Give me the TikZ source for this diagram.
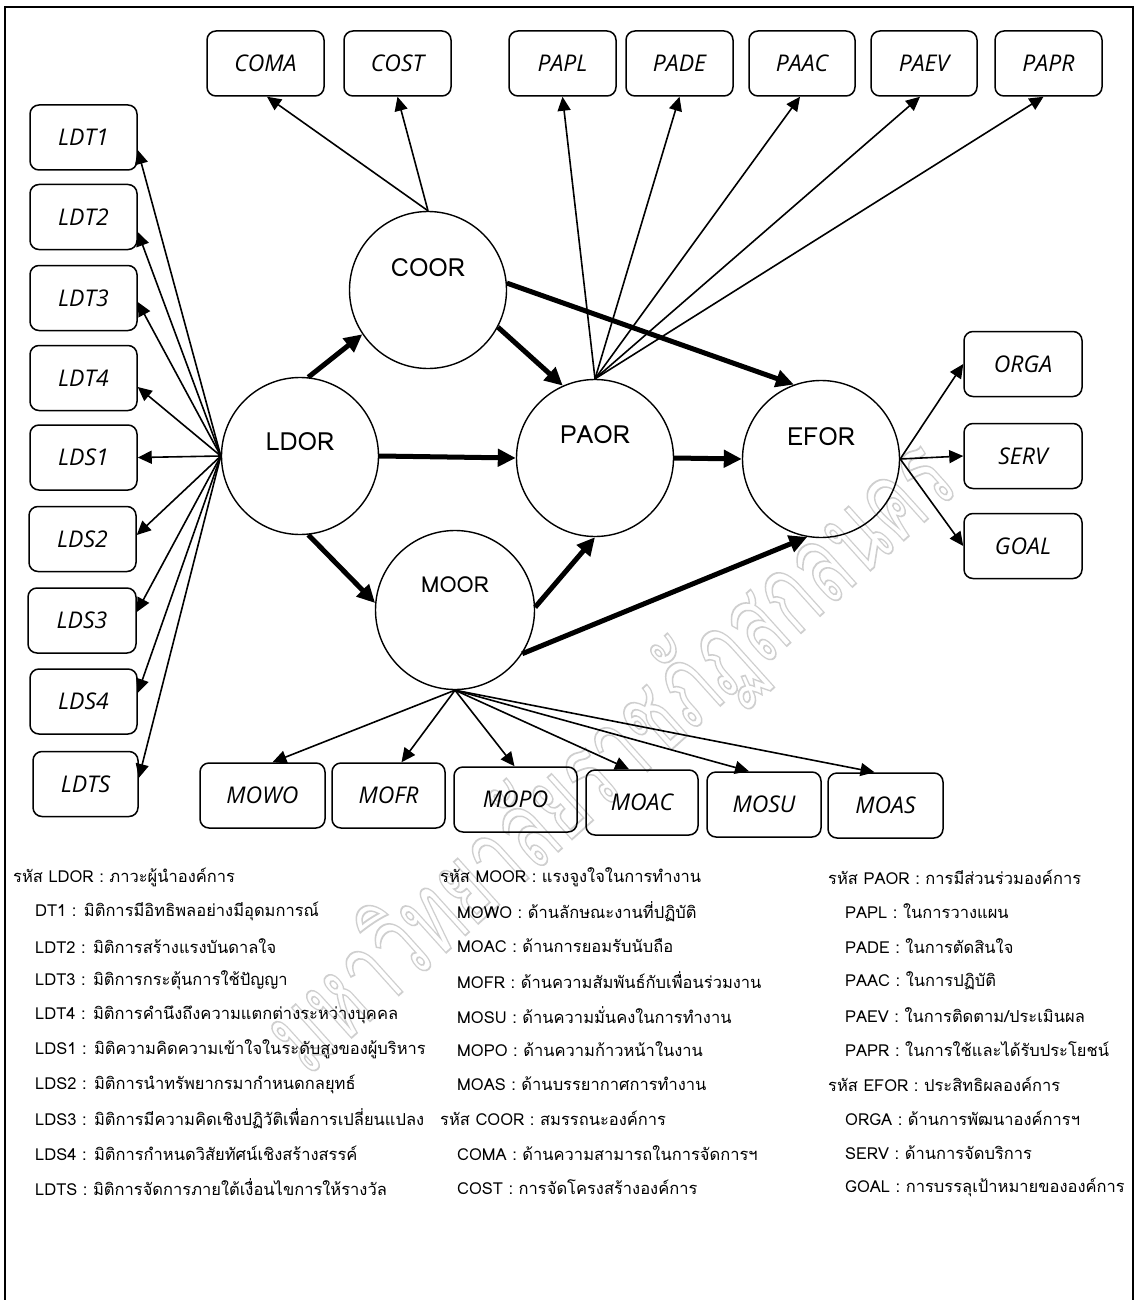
\documentclass[tikz,border=0pt]{standalone}
\usepackage{fontspec}
\usetikzlibrary{arrows.meta,calc}
\newfontfamily\thaifont[Script=Thai]{Loma}
\newfontfamily\boxfont{Open Sans}
\newcommand\clab[2]{\smash{\raisebox{#1pt}{#2}}}
\begin{document}
\begin{tikzpicture}[x=1pt,y=-1pt,
 bx/.style={draw, line width=1.5pt, rounded corners=9pt, minimum height=65pt, inner sep=0pt, font=\boxfont\itshape\fontsize{23}{23}\selectfont},
 circ/.style={circle, draw, line width=1.4pt, minimum size=157pt, inner sep=0pt, font=\thaifont\fontsize{25}{25}\selectfont},
 thinarr/.style={line width=1.6pt, -{Triangle[length=14pt,width=13pt]}},
 thickarr/.style={line width=5pt, -{Triangle[length=18pt,width=17pt]}},
 leg/.style={anchor=west, inner sep=0pt, font=\thaifont\fontsize{16.5}{16.5}\selectfont},
]
\useasboundingbox (0,0) rectangle (1136,1300);
\fill[white] (0,0) rectangle (1136,1300);
% watermark
\node[rotate=42, text=gray!38, inner sep=0pt, font=\thaifont\fontsize{112}{112}\selectfont] (wm) at (612,758) {\scalebox{0.64}[1]{\special{pdf:literal direct 1 Tr 1.8 w}มหาวิทยาลัยราชภัฏสกลนคร\special{pdf:literal direct 0 Tr}}};
% frame
\draw[line width=1.8pt] (5,7) rectangle (1133,1330);

% top boxes
\node[bx, minimum width=117pt] (COMA) at (265.5,63.5) {COMA};
\node[bx, minimum width=107pt] (COST) at (397.5,63.5) {COST};
\node[bx, minimum width=107pt] (PAPL) at (562.5,63.5) {PAPL};
\node[bx, minimum width=107pt] (PADE) at (679.5,63.5) {PADE};
\node[bx, minimum width=106pt] (PAAC) at (802,63.5) {PAAC};
\node[bx, minimum width=106pt] (PAEV) at (924,63.5) {PAEV};
\node[bx, minimum width=107pt] (PAPR) at (1048.5,63.5) {PAPR};
% left boxes
\node[bx, minimum width=107pt] (LDT1) at (83.5,137.5) {LDT1};
\node[bx, minimum width=107pt] (LDT2) at (83.5,217) {LDT2};
\node[bx, minimum width=107pt] (LDT3) at (83.5,298) {LDT3};
\node[bx, minimum width=107pt] (LDT4) at (83.5,378) {LDT4};
\node[bx, minimum width=107pt] (LDS1) at (83.5,457.5) {LDS1};
\node[bx, minimum width=107pt] (LDS2) at (82.5,539) {LDS2};
\node[bx, minimum width=108pt] (LDS3) at (82,620.5) {LDS3};
\node[bx, minimum width=107pt] (LDS4) at (83.5,701.5) {LDS4};
\node[bx, minimum width=105pt] (LDTS) at (85.5,784) {LDTS};
% right boxes
\node[bx, minimum width=118pt] (ORGA) at (1023,364) {ORGA};
\node[bx, minimum width=118pt] (SERV) at (1023,456) {SERV};
\node[bx, minimum width=118pt] (GOAL) at (1023,546) {GOAL};
% bottom boxes
\node[bx, minimum width=125pt] (MOWO) at (262.5,795.5) {MOWO};
\node[bx, minimum width=113pt] (MOFR) at (388.5,795.5) {MOFR};
\node[bx, minimum width=123pt] (MOPO) at (515.5,799.5) {MOPO};
\node[bx, minimum width=112pt] (MOAC) at (642,802.5) {MOAC};
\node[bx, minimum width=114pt] (MOSU) at (764,804.5) {MOSU};
\node[bx, minimum width=115pt] (MOAS) at (885.5,805.5) {MOAS};

% circles
\node[circ] (LDOR) at (300,456) {\clab{5.5}{LDOR}};
\node[circ] (COOR) at (428,290) {\clab{13.5}{COOR}};
\node[circ] (PAOR) at (595,458) {\clab{14.5}{PAOR}};
\node[circ] (EFOR) at (821,459) {\clab{13.5}{EFOR}};
\node[circ, minimum size=159pt, font=\thaifont\fontsize{22}{22}\selectfont] (MOOR) at (455,610) {\clab{17.5}{MOOR}};

% LDOR fan
\draw[thinarr] (LDOR.west) -- ($(LDT1.east)+(0,12.5)$);
\draw[thinarr] (LDOR.west) -- ($(LDT2.east)+(0,15)$);
\draw[thinarr] (LDOR.west) -- ($(LDT3.east)+(0,4)$);
\draw[thinarr] (LDOR.west) -- ($(LDT4.east)+(0,9)$);
\draw[thinarr] (LDOR.west) -- (LDS1.east);
\draw[thinarr] (LDOR.west) -- ($(LDS2.east)+(0,-4)$);
\draw[thinarr] (LDOR.west) -- ($(LDS3.east)+(0,-8.5)$);
\draw[thinarr] (LDOR.west) -- ($(LDS4.east)+(0,-8.5)$);
\draw[thinarr] (LDOR.west) -- ($(LDTS.east)+(0,-6)$);
% COOR fan
\draw[thinarr] (COOR.north) -- ($(COMA.south)+(1.5,0)$);
\draw[thinarr] (COOR.north) -- (COST.south);
% PAOR fan
\draw[thinarr] (PAOR.north) -- (PAPL.south);
\draw[thinarr] (PAOR.north) -- (PADE.south);
\draw[thinarr] (PAOR.north) -- ($(PAAC.south)+(-2,0)$);
\draw[thinarr] (PAOR.north) -- ($(PAEV.south)+(-4,0)$);
\draw[thinarr] (PAOR.north) -- ($(PAPR.south)+(-5,0)$);
% EFOR fan
\draw[thinarr] (EFOR.east) -- (ORGA.west);
\draw[thinarr] (EFOR.east) -- (SERV.west);
\draw[thinarr] (EFOR.east) -- (GOAL.west);
% MOOR fan
\draw[thinarr] (MOOR.south) -- ($(MOWO.north)+(10,0)$);
\draw[thinarr] (MOOR.south) -- ($(MOFR.north)+(13,0)$);
\draw[thinarr] (MOOR.south) -- ($(MOPO.north)+(-1,0)$);
\draw[thinarr] (MOOR.south) -- ($(MOAC.north)+(-13,0)$);
\draw[thinarr] (MOOR.south) -- ($(MOSU.north)+(-15,0)$);
\draw[thinarr] (MOOR.south) -- ($(MOAS.north)+(-11,0)$);
% structural paths
\draw[thickarr] (LDOR.84) -- (COOR.214);
\draw[thickarr] (LDOR.east) -- (PAOR.west);
\draw[thickarr] (LDOR.-84) -- (MOOR.175);
\draw[thickarr] (COOR.-28) -- (PAOR.114);
\draw[thickarr] (COOR.5) -- (EFOR.110);
\draw[thickarr] (PAOR.east) -- (EFOR.west);
\draw[thickarr] (MOOR.2) -- (PAOR.south);
\draw[thickarr] (MOOR.-33) -- (EFOR.260);

% legend column 1
\node[leg] (a1) at (13,877) {รหัส LDOR : ภาวะผู้นำองค์การ};
\node[leg] (a2) at (35,911.5) {DT1 : มิติการมีอิทธิพลอย่างมีอุดมการณ์};
\node[leg] (a3) at (35,946) {LDT2 : มิติการสร้างแรงบันดาลใจ};
\node[leg] (a4) at (35,980.5) {LDT3 : มิติการกระตุ้นการใช้ปัญญา};
\node[leg] (a5) at (35,1015) {LDT4 : มิติการคำนึงถึงความแตกต่างระหว่างบุคคล};
\node[leg] (a6) at (35,1049.5) {LDS1 : มิติความคิดความเข้าใจในระดับสูงของผู้บริหาร};
\node[leg] (a7) at (35,1084) {LDS2 : มิติการนำทรัพยากรมากำหนดกลยุทธ์};
\node[leg] (a8) at (35,1118.5) {LDS3 : มิติการมีความคิดเชิงปฏิวัติเพื่อการเปลี่ยนแปลง};
\node[leg] (a9) at (35,1153) {LDS4 : มิติการกำหนดวิสัยทัศน์เชิงสร้างสรรค์};
\node[leg] (a10) at (35,1187.5) {LDTS : มิติการจัดการภายใต้เงื่อนไขการให้รางวัล};
% legend column 2
\node[leg] (b1) at (440,877) {รหัส MOOR : แรงจูงใจในการทำงาน};
\node[leg] (b2) at (457,911.5) {MOWO : ด้านลักษณะงานที่ปฏิบัติ};
\node[leg] (b3) at (457,946) {MOAC : ด้านการยอมรับนับถือ};
\node[leg] (b4) at (457,980.5) {MOFR : ด้านความสัมพันธ์กับเพื่อนร่วมงาน};
\node[leg] (b5) at (457,1015) {MOSU : ด้านความมั่นคงในการทำงาน};
\node[leg] (b6) at (457,1049.5) {MOPO : ด้านความก้าวหน้าในงาน};
\node[leg] (b7) at (457,1084) {MOAS : ด้านบรรยากาศการทำงาน};
\node[leg] (b8) at (440,1118.5) {รหัส COOR : สมรรถนะองค์การ};
\node[leg] (b9) at (457,1153) {COMA : ด้านความสามารถในการจัดการฯ};
\node[leg] (b10) at (457,1187.5) {COST : การจัดโครงสร้างองค์การ};
% legend column 3
\node[leg] (c1) at (828,877) {รหัส PAOR : การมีส่วนร่วมองค์การ};
\node[leg] (c2) at (845,911.5) {PAPL : ในการวางแผน};
\node[leg] (c3) at (845,946) {PADE : ในการตัดสินใจ};
\node[leg] (c4) at (845,980.5) {PAAC : ในการปฏิบัติ};
\node[leg] (c5) at (845,1015) {PAEV : ในการติดตาม/ประเมินผล};
\node[leg] (c6) at (845,1049.5) {PAPR : ในการใช้และได้รับประโยชน์};
\node[leg] (c7) at (828,1084) {รหัส EFOR : ประสิทธิผลองค์การ};
\node[leg] (c8) at (845,1118.5) {ORGA : ด้านการพัฒนาองค์การฯ};
\node[leg] (c9) at (845,1153) {SERV : ด้านการจัดบริการ};
\node[leg] (c10) at (845,1187.5) {GOAL : การบรรลุเป้าหมายขององค์การ};
\end{tikzpicture}
\end{document}
